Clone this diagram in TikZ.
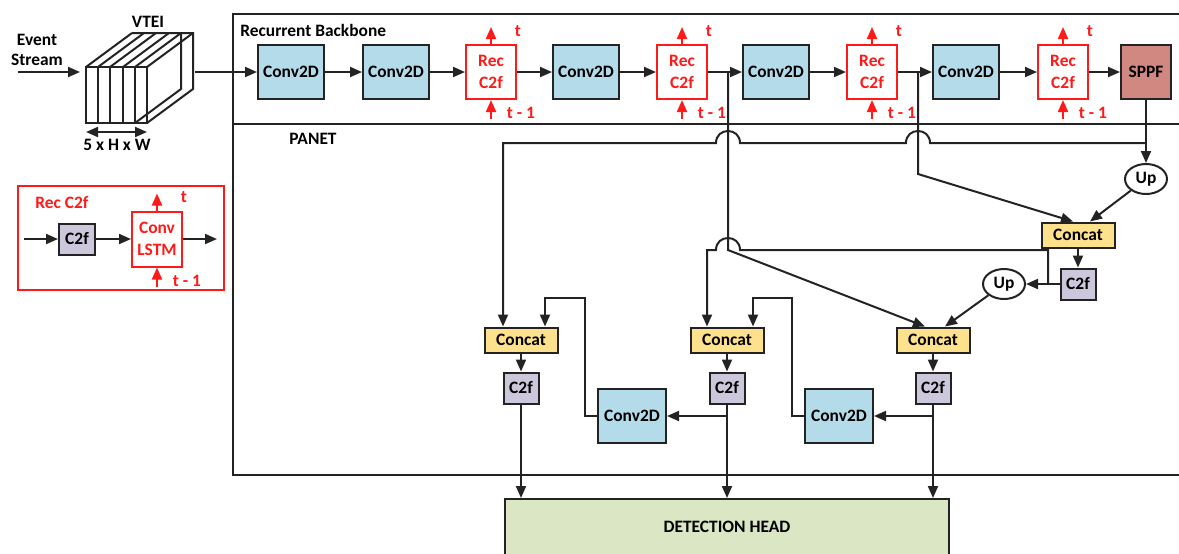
\documentclass[tikz,border=0pt]{standalone}
\usepackage{fontspec}
\setmainfont{Carlito}
\usetikzlibrary{arrows.meta,shapes.geometric}

\definecolor{convblue}{RGB}{180,219,233}
\definecolor{concatyellow}{RGB}{253,225,140}
\definecolor{cfgrey}{RGB}{204,199,219}
\definecolor{sppfred}{RGB}{208,136,128}
\definecolor{headgreen}{RGB}{219,231,196}
\definecolor{recred}{RGB}{255,25,25}
\definecolor{edgegrey}{RGB}{35,35,35}

\tikzset{
  lbl/.style={font=\bfseries\fontsize{8.7}{10}\selectfont, inner sep=0pt},
  redlbl/.style={lbl, text=recred},
  blk/.style={lbl, draw=edgegrey, line width=1pt, align=center},
  convbox/.style={blk, fill=convblue, minimum width=33pt, minimum height=27pt},
  recbox/.style={blk, draw=recred, text=recred, fill=white, minimum width=25pt, minimum height=27pt,
    font=\bfseries\fontsize{8.7}{11}\selectfont},
  sppfbox/.style={blk, fill=sppfred, minimum width=25pt, minimum height=27pt},
  concatbox/.style={blk, fill=concatyellow, minimum width=36.5pt, minimum height=12.5pt},
  cfbox/.style={blk, fill=cfgrey, minimum width=17.5pt, minimum height=15.5pt},
  upnode/.style={blk, ellipse, fill=white, minimum width=21pt, minimum height=15pt},
  wire/.style={line width=1pt, draw=edgegrey},
  arr/.style={wire, -{Triangle[length=6pt,width=5pt]}},
  redarr/.style={arr, draw=recred}
}

\begin{document}
\begin{tikzpicture}[x=0.5pt, y=-0.5pt]
\useasboundingbox (0,0) rectangle (1179,553);

% Frame
\draw[wire] (1179,14) -- (233,14) -- (233,475) -- (1179,475);
\draw[wire] (233,124) -- (1179,124);
\node[lbl, anchor=west] (bbtitle) at (240,30) {Recurrent Backbone};
\node[lbl, anchor=west] (pantitle) at (289,139) {PANET};

% Input and VTEI
\node[lbl, align=center] (event) at (37,50) {Event\\Stream};
\coordinate (evin) at (18,72);
\coordinate (vtin) at (80,72);
\coordinate (vtout) at (195,72);
\draw[arr] (evin) -- (vtin);
\draw[wire] (86,67) rectangle (147,123);
\foreach \sx in {98,110,123,135} \draw[wire] (\sx,67) -- (\sx,123);
\foreach \sx in {86,98,110,123,135,147} \draw[wire] (\sx,67) -- ++(46,-34);
\draw[wire] (132,33) -- (193,33) -- (193,89) -- (147,123);
\draw[wire] (135,123) -- (181,89) -- (181,33);
\node[lbl] (vtei) at (148,22) {VTEI};
\coordinate (dimL) at (86,132);
\coordinate (dimR) at (147,132);
\draw[wire, {Triangle[length=6pt,width=5pt]}-{Triangle[length=6pt,width=5pt]}] (dimL) -- (dimR);
\node[lbl] (dims) at (117,145) {5 x H x W};

% Backbone
\node[convbox] (c1) at (291,72) {Conv2D};
\node[convbox] (c2) at (396,72) {Conv2D};
\node[recbox] (r1) at (491,72) {Rec\\C2f};
\node[convbox] (c3) at (586,72) {Conv2D};
\node[recbox] (r2) at (682,72) {Rec\\C2f};
\node[convbox] (c4) at (776,72) {Conv2D};
\node[recbox] (r3) at (872,72) {Rec\\C2f};
\node[convbox] (c5) at (966,72) {Conv2D};
\node[recbox] (r4) at (1063,72) {Rec\\C2f};
\node[sppfbox] (sp) at (1146,72) {SPPF};

\draw[arr] (vtout) -- (c1);
\foreach \a/\b in {c1/c2,c2/r1,r1/c3,c3/r2,r2/c4,c4/r3,r3/c5,c5/r4,r4/sp}
  \draw[arr] (\a) -- (\b);

% Legend
\draw[wire, draw=recred] (18,186) rectangle (224,290);
\node[redlbl, anchor=west] (legtitle) at (35,203) {Rec C2f};
\node[cfbox, minimum width=18pt] (lcf) at (77,239) {C2f};
\node[recbox, minimum height=27.5pt] (lstm) at (157,239) {Conv\\LSTM};
\coordinate (lin) at (24,239);
\coordinate (lout) at (217,239);
\draw[arr] (lin) -- (lcf);
\draw[arr] (lcf) -- (lstm);
\draw[arr] (lstm) -- (lout);

% States t and t - 1
\foreach \r in {r1,r2,r3,r4,lstm}{
  \coordinate (\r-t) at ([yshift=8.5pt]\r.north);
  \coordinate (\r-p) at ([yshift=-9.5pt]\r.south);
  \draw[redarr] (\r.north) -- (\r-t);
  \draw[redarr] (\r-p) -- (\r.south);
  \node[redlbl] (\r-tl) at ([xshift=13.5pt,yshift=-2pt]\r-t) {t};
  \node[redlbl] (\r-pl) at ([xshift=15pt,yshift=3pt]\r-p) {t - 1};
}

% PANET
\node[upnode] (upA) at (1146,179) {Up};
\node[concatbox] (catA) at (1078,235) {Concat};
\node[cfbox] (cfA) at (1078,284) {C2f};
\node[upnode] (upB) at (1004,284) {Up};
\node[concatbox] (catL) at (521,340) {Concat};
\node[concatbox] (catM) at (727,340) {Concat};
\node[concatbox] (catR) at (933,340) {Concat};
\node[cfbox] (cfL) at (521,388) {C2f};
\node[cfbox] (cfM) at (727,388) {C2f};
\node[cfbox] (cfR) at (933,388) {C2f};
\node[convbox, minimum width=34pt] (convL) at (632,416) {Conv2D};
\node[convbox, minimum width=34pt] (convR) at (839,416) {Conv2D};
\node[blk, fill=headgreen, minimum width=222pt, minimum height=40pt, anchor=north] (head) at (727,498) {};
\node[lbl] (headlbl) at (727,527) {DETECTION HEAD};

% Edges
\coordinate (b1) at (728,72);
\coordinate (b2) at (918,72);
\coordinate (j1) at (1146,143);
\coordinate (b3) at (1048,284);
\coordinate (b4) at (727,416);
\coordinate (b5) at (933,416);
\draw[arr] (sp) -- (upA);
\draw[arr] (j1) -- (930,143) .. controls (930,127) and (906,127) .. (906,143)
  -- (740,143) .. controls (740,127) and (716,127) .. (716,143)
  -- (503,143) -- ([xshift=-9pt]catL.north);
\draw[arr] (b1) -- (728,250) -- ([xshift=-4pt]catR.north);
\draw[arr] (b2) -- (918,174) -- ([xshift=-2.5pt]catA.north);
\draw[arr] (upA) -- ([xshift=6pt]catA.north);
\draw[arr] (catA) -- (cfA);
\draw[arr] (cfA) -- (upB);
\draw[arr] (b3) -- (1048,250) -- (740,250) .. controls (740,234) and (716,234) .. (716,250)
  -- (707,250) -- ([xshift=-10pt]catM.north);
\draw[arr] (upB) -- ([xshift=6pt]catR.north);
\foreach \s in {L,M,R}{
  \draw[arr] (cat\s) -- (cf\s);
  \draw[arr] (cf\s.south) -- (cf\s.south |- head.north);
}
\draw[arr] (b4) -- (convL);
\draw[arr] (b5) -- (convR);
\draw[arr] (convL.west) -- (585,416) -- (585,298) -- (545,298) -- ([xshift=12pt]catL.north);
\draw[arr] (convR.west) -- (792,416) -- (792,298) -- (753,298) -- ([xshift=13pt]catM.north);
\end{tikzpicture}
\end{document}
